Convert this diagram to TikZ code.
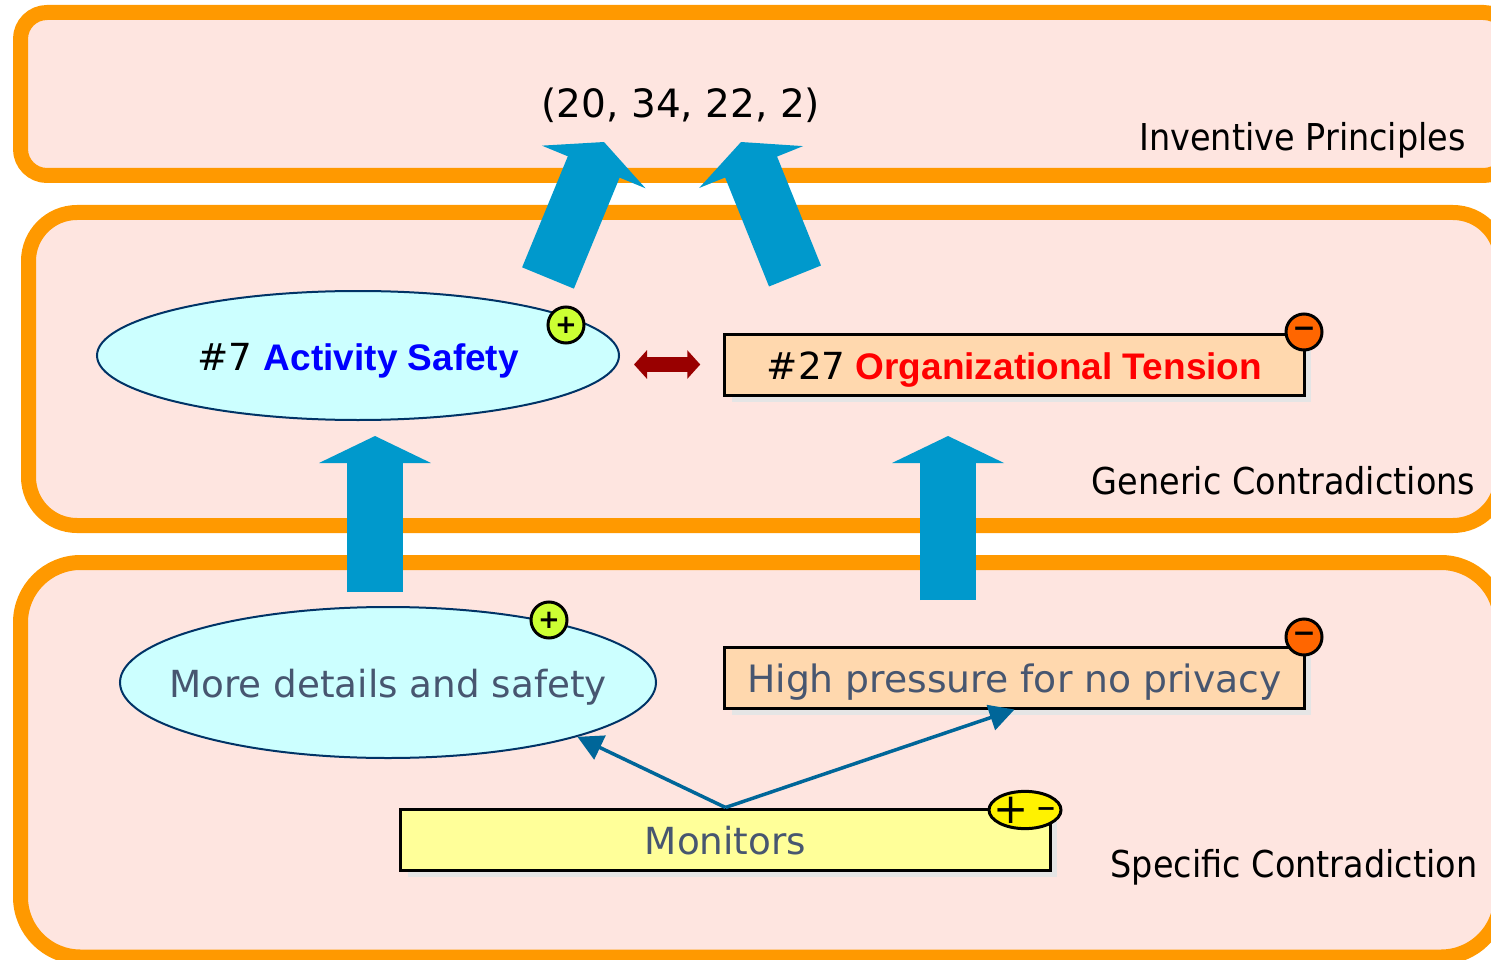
\documentclass[tikz,border=0pt]{standalone}
\usepackage{fontspec}
\setmainfont{DejaVu Sans}
\newfontfamily\boldfont[Scale=0.992]{Liberation Sans Bold}
\newfontfamily\captionfont[FakeStretch=0.905]{DejaVu Sans}
\usetikzlibrary{arrows.meta,shadows,shapes.geometric,positioning}
\definecolor{panelfill}{HTML}{FEE5E0}
\definecolor{panelline}{HTML}{FF9900}
\definecolor{bigarrow}{HTML}{0099CC}
\definecolor{thinarrow}{HTML}{006699}
\definecolor{slate}{HTML}{475670}
\definecolor{bubblefill}{HTML}{CCFFFF}
\definecolor{bubbleline}{HTML}{003366}
\definecolor{peach}{HTML}{FFD8AE}
\definecolor{paleyellow}{HTML}{FFFF99}
\definecolor{plusfill}{HTML}{CCFF33}
\definecolor{minusfill}{HTML}{FF6600}
\definecolor{shadowgrey}{HTML}{E5E5E5}
\newcommand{\nowidth}[1]{\makebox[0pt]{#1}}

\begin{document}
\begin{tikzpicture}[x=1pt, y=-1pt, >={Triangle[length=25pt,width=26pt]}]
        \tikzstyle{panel} = [draw=panelline, fill=panelfill, line width=15pt]
        \tikzstyle{words} = [font=\fontsize{37.3}{44}\selectfont, text height=30pt, text depth=0pt, inner sep=0pt, text=slate]
        \tikzstyle{bubble} = [words, draw=bubbleline, fill=bubblefill, ellipse, line width=2pt]
        \tikzstyle{block} = [words, draw=black, rectangle, line width=3pt, minimum width=579.5pt, minimum height=61pt, drop shadow={shadow xshift=7pt, shadow yshift=-7pt, fill=shadowgrey, opacity=1}]
        \tikzstyle{badge} = [draw=black, circle, line width=3pt, minimum size=36pt, inner sep=0pt]
        \tikzstyle{caption} = [font=\captionfont\fontsize{37}{44}\selectfont, inner sep=0pt]
        \tikzstyle{big} = [-{Triangle[length=27pt,width=111pt]}, bigarrow, line width=56pt]

        \useasboundingbox (0,0) rectangle (1491,960);
        \clip (0,0) rectangle (1491,960);

        % the three bands
        \draw [panel, rounded corners=26.5pt] (20.5,12.5) rectangle (1510,175.5);
        \draw [panel, rounded corners=48.5pt] (28.5,212.5) rectangle (1501.5,525.5);
        \draw [panel, rounded corners=60pt] (20.5,562.5) rectangle (1501,957);

        \node [font=\fontsize{39}{46}\selectfont, inner sep=0pt] (principles) at (681,105) {(20, 34, 22, 2)};
        \node [caption, anchor=east] (inventive) at (1466,140) {Inventive Principles};
        \node [caption, anchor=east] (generic) at (1475.5,481) {Generic Contradictions};
        \node [caption, anchor=east] (specific) at (1477.5,867) {Specific Contradiction};

        % generic level
        \node [bubble, minimum width=522pt, minimum height=129pt, text=black] (activity) at (358,355.5) {\nowidth{\#7 {\boldfont\color{blue}Activity Safety}}};
        \node [block, fill=peach, text=black] (tension) at (1014.5,364.5) {\#27\hspace{10pt}{\boldfont\color{red}Organizational Tension}};
        \node [badge, fill=plusfill, font=\bfseries\fontsize{26}{26}\selectfont] (activityplus) at (566,325) {+};
        \node [badge, fill=minusfill, font=\bfseries\fontsize{28}{28}\selectfont] (tensionminus) at (1304,332) {−};

        % specific level
        \node [bubble, minimum width=536pt, minimum height=151pt] (details) at (388,682.5) {\nowidth{More details and safety}};
        \node [block, below of=tension, node distance=313pt, fill=peach, font=\fontsize{37.7}{44}\selectfont] (pressure) {High pressure for no privacy};
        \node [block, minimum width=649.5pt, fill=paleyellow] (monitors) at (725.5,839.5) {Monitors};
        \node [badge, fill=plusfill, font=\bfseries\fontsize{26}{26}\selectfont] (detailsplus) at (549,620) {+};
        \node [badge, fill=minusfill, font=\bfseries\fontsize{28}{28}\selectfont] (pressureminus) at (1304,637) {−};
        \node [draw=black, fill=yellow, ellipse, line width=3pt, minimum width=72pt, minimum height=34pt, inner sep=0pt, font=\fontsize{42}{44}\selectfont] (monitorssign) at (1025,810) {\nowidth{+\,\raisebox{7pt}{\bfseries\fontsize{24}{30}\selectfont −}}};

        \coordinate (detailstail) at (375,592);
        \coordinate (detailshead) at (375,436);
        \coordinate (pressuretail) at (948,600);
        \coordinate (pressurehead) at (948,436);
        \coordinate (leftup) at (548,278);
        \coordinate (lefttip) at (604,142);
        \coordinate (rightup) at (795,276);
        \coordinate (righttip) at (741,142);

        \draw [big] (detailstail) -- (detailshead);
        \draw [big] (pressuretail) -- (pressurehead);
        \draw [big] (leftup) -- (lefttip);
        \draw [big] (rightup) -- (righttip);

        \draw [{Triangle[length=13pt,width=28pt]}-{Triangle[length=13pt,width=28pt]}, red!60!black, line width=15pt, shorten <=14pt, shorten >=23pt, yshift=2.5pt] (activity.east |- tension.west) -- (tension.west);
        \draw [->, thinarrow, line width=3.5pt] (monitors.north) -- (details.-16.2);
        \draw [->, thinarrow, line width=3.5pt] (monitors.north) -- (pressure.south);
    \end{tikzpicture}
\end{document}
